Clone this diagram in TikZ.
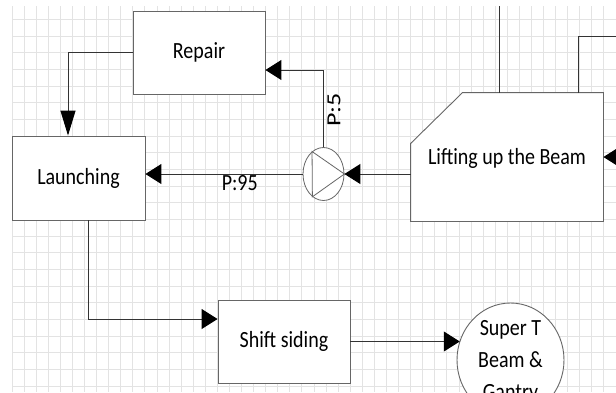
\documentclass[tikz,border=0pt]{standalone}
\usepackage{fontspec}
\setmainfont{Carlito}
\usetikzlibrary{arrows.meta,shapes.geometric,calc}
\newcommand{\vst}[1]{\scalebox{1}[1.16]{#1}}
\begin{document}
\begin{tikzpicture}[x=1pt,y=-1pt,
  gridline/.style={draw=black!11,line width=0.9pt},
  box/.style={draw=black!60,line width=0.9pt,fill=white,rectangle,inner sep=0pt,font=\fontsize{20}{24}\selectfont},
  conn/.style={draw=black!80,line width=1pt},
  harrow/.style={conn,-{Triangle[length=16pt,width=20pt,black]}},
  varrow/.style={conn,-{Triangle[length=25pt,width=15pt,black]}},
  lbl/.style={font=\fontsize{20}{24}\selectfont,inner sep=1pt}
]
\useasboundingbox (0,0) rectangle (616,392);
\clip (0,0) rectangle (616,392);
\fill[white] (0,0) rectangle (616,392);
% grid
\foreach \i in {0,...,50} \draw[gridline] ({12+12.08*\i},6) -- ({12+12.08*\i},392);
\foreach \j in {1,...,23} \draw[gridline] (12,{2.67+16.67*\j}) -- (616,{2.67+16.67*\j});

% nodes
\node[box,minimum width=132pt,minimum height=83pt] (repair) at (199,52.5) {\vst{Repair}};
\node[box,minimum width=133pt,minimum height=84pt] (launch) at (78.5,178) {\vst{Launching}};
\node[box,draw=none,fill=none,minimum width=192pt,minimum height=128pt] (lift) at (507,157) {};
\draw[draw=black!60,line width=0.9pt,fill=white] ([xshift=52pt]lift.north west) -- (lift.north east) -- (lift.south east) -- (lift.south west) -- ([yshift=-51pt]lift.north west) -- cycle;
\node[lbl] (liftlabel) at ([yshift=-1pt]lift.center) {\vst{Lifting up the Beam}};
\node[draw=black!60,line width=0.8pt,fill=white,ellipse,minimum width=41pt,minimum height=53pt,inner sep=0pt] (pump) at (323.5,174) {};
\draw[black!60,line width=0.8pt] (pump.117) -- (pump.244) -- (pump.east) -- cycle;
\node[box,minimum width=132pt,minimum height=83pt] (shift) at (284,341.5) {\vst{Shift siding}};
\node[draw=black!60,line width=0.9pt,fill=white,ellipse,minimum width=107pt,minimum height=114pt,inner sep=0pt] (super) at (510.5,360) {};
\node[lbl,align=center,font=\fontsize{20}{32}\selectfont] (superlabel) at (510.5,362) {\vst{Super T}\\\vst{Beam \&}\\\vst{Gantry}};

% connectors
\coordinate (t1) at (499,6);
\draw[conn] (t1) -- (t1 |- lift.north);
\coordinate (t2) at (617,36);
\draw[conn] (t2) -| ([xshift=71pt]lift.north);
\coordinate (rin) at (618,157);
\draw[harrow] (rin) -- (lift.east);
\draw[harrow] (pump.east -| lift.west) -- (pump.east);
\draw[harrow] (pump.west) -- (pump.west -| launch.east) node[lbl,pos=0.4,below] (p95) {\vst{P:95}};
\draw[harrow] (pump.north) |- ([yshift=-17.5pt]repair.east);
\node[lbl,rotate=90] (p5) at (334,110) {\scalebox{1.3}[1]{P:5}};
\draw[varrow] (repair.west) -| ([xshift=-10.5pt]launch.north);
\draw[harrow] ([xshift=9.5pt]launch.south) |- ([yshift=22.5pt]shift.west);
\draw[harrow] (shift.east) -- (shift.east -| super.159);
\end{tikzpicture}
\end{document}
